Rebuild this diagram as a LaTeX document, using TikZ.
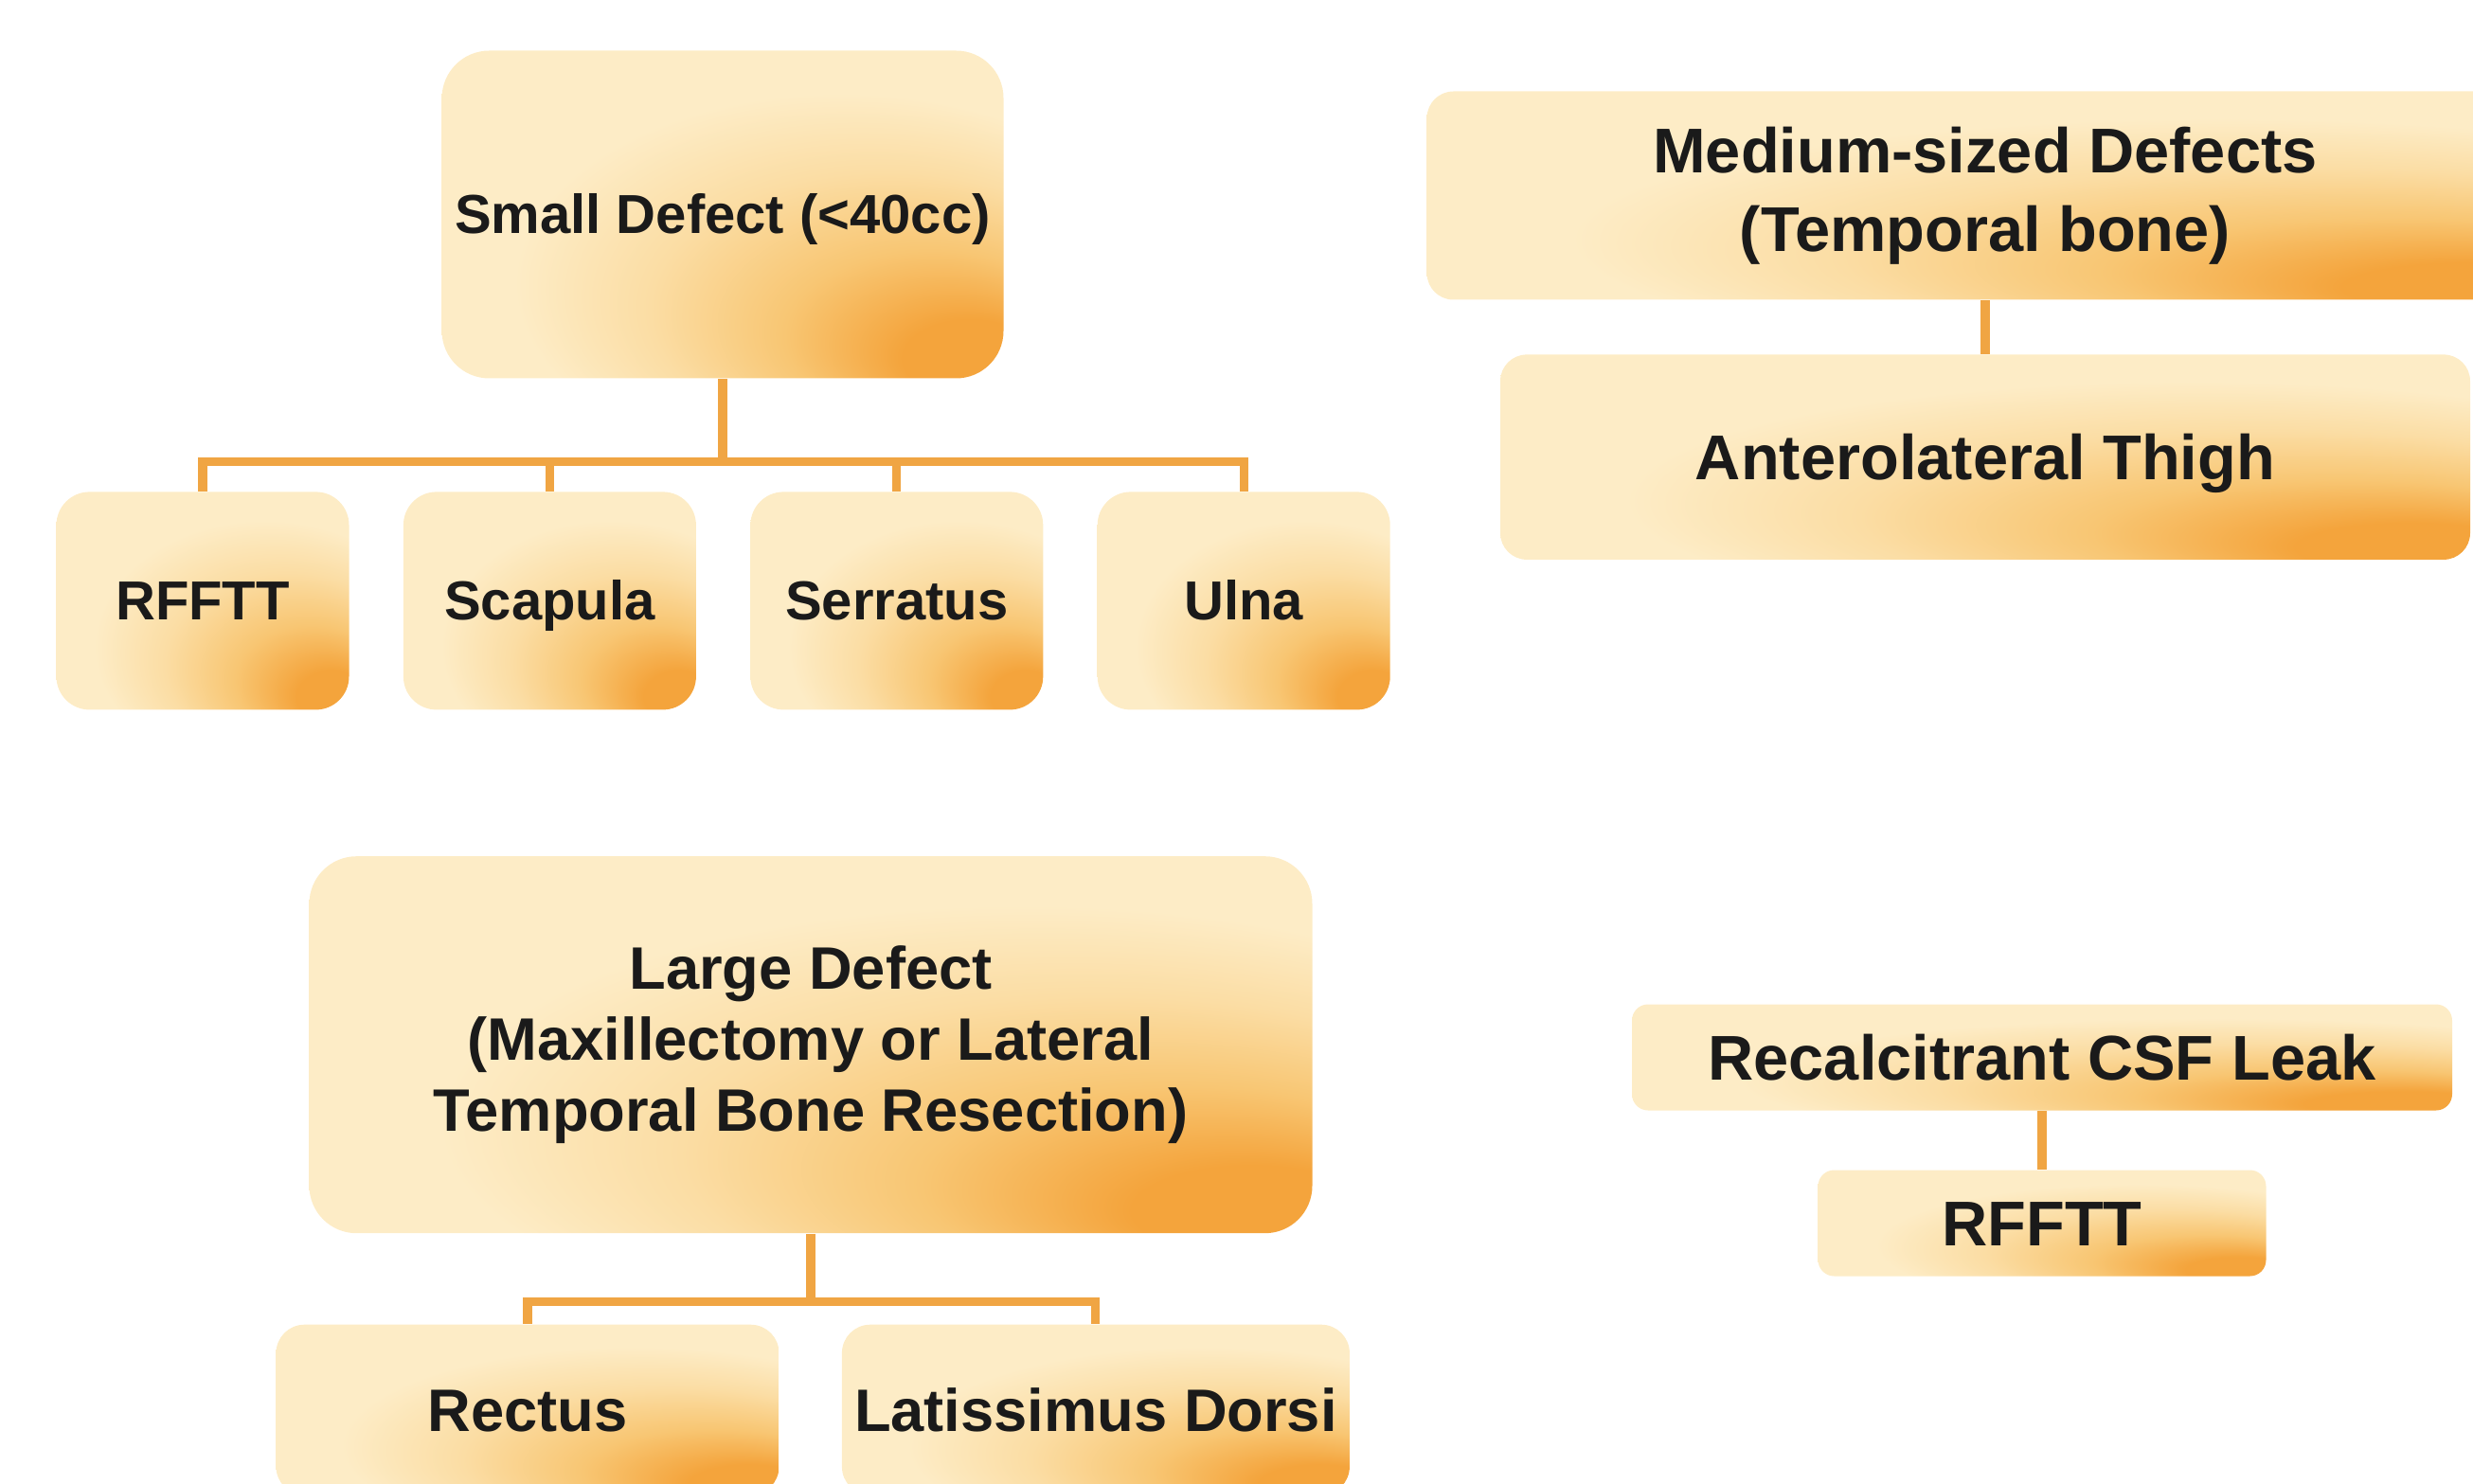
\documentclass[tikz,border=0pt]{standalone}
\usepackage{fontspec}
\setmainfont{Liberation Sans}
\usetikzlibrary{positioning}
\definecolor{creamTop}{HTML}{FDECC6}
\definecolor{creamMid}{HTML}{FBDDA4}
\definecolor{orangeSoft}{HTML}{F8C673}
\definecolor{orangeTip}{HTML}{F4A43C}
\definecolor{linkOrange}{HTML}{F0A543}
\definecolor{inkBlack}{HTML}{1A1A1A}
\pgfdeclareradialshading{boxglow}{\pgfpoint{25bp}{-25bp}}{color(0bp)=(orangeTip); color(6bp)=(orangeTip); color(13bp)=(orangeSoft); color(21bp)=(creamMid); color(29bp)=(creamTop); color(50bp)=(creamTop)}

\begin{document}
\begin{tikzpicture}[
    card/.style={shade, shading=boxglow, inner sep=0pt, align=center, text=inkBlack},
    head/.style={card, rounded corners=0.5cm},
    leaf/.style={card, rounded corners=0.35cm, minimum width=3.09cm, minimum height=2.3cm,
      font=\bfseries\fontsize{16.5}{19}\selectfont, text height=12pt, text depth=0.5pt},
    slab/.style={card, rounded corners=0.28cm, font=\bfseries\fontsize{19}{23.7}\selectfont},
    strip/.style={card, rounded corners=0.17cm, minimum height=1.12cm,
      font=\bfseries\fontsize{19}{23.7}\selectfont, text height=14pt, text depth=0.5pt},
    flap/.style={head, rounded corners=0.3cm, minimum height=1.8cm,
      font=\bfseries\fontsize{18}{21.3}\selectfont, text height=13.3pt, text depth=0.4pt},
    link/.style={draw=linkOrange, line width=2.6pt}]
    \clip (0,0) rectangle (26.11,15.66);
    % small defects
    \node[head, minimum width=5.93cm, minimum height=3.46cm, text height=12pt, text depth=0.5pt,
      font=\bfseries\fontsize{16.5}{19}\selectfont] (small) at (7.63,13.395) {Small Defect (<40cc)};
    \node[leaf] (rfftt) at (2.14,9.316) {RFFTT};
    \node[leaf, right=0.56cm of rfftt] (scapula) {Scapula};
    \node[leaf, right=0.56cm of scapula] (serratus) {Serratus};
    \node[leaf, right=0.56cm of serratus] (ulna) {Ulna};
    \foreach \c in {rfftt,scapula,serratus,ulna}
      \draw[link] (small.south) -- ++(0,-0.87) -| (\c.north);
    % medium defects
    \node[slab, minimum width=11.79cm, minimum height=2.2cm] (medium) at (20.96,13.595)
      {Medium-sized Defects\\(Temporal bone)};
    \node[slab, minimum width=10.24cm, minimum height=2.165cm, text height=14pt, text depth=0.5pt,
      below=0.565cm of medium] (thigh) {Anterolateral Thigh};
    \draw[link] (medium.south) -- (thigh.north);
    % large defects
    \node[head, minimum width=10.59cm, minimum height=3.98cm,
      font=\bfseries\fontsize{18}{21.3}\selectfont] (large) at (8.56,4.628)
      {Large Defect\\(Maxillectomy or Lateral\\Temporal Bone Resection)};
    \node[flap, minimum width=5.31cm] (rectus) at (5.57,0.773) {Rectus};
    \node[flap, minimum width=5.36cm, right=0.65cm of rectus] (latissimus) {Latissimus Dorsi};
    \foreach \c in {rectus,latissimus}
      \draw[link] (large.south) -- ++(0,-0.72) -| (\c.north);
    % csf leak
    \node[strip, minimum width=8.66cm] (leak) at (21.56,4.495) {Recalcitrant CSF Leak};
    \node[strip, minimum width=4.73cm, below=0.616cm of leak] (leakflap) {RFFTT};
    \draw[link] (leak.south) -- (leakflap.north);
\end{tikzpicture}
\end{document}
